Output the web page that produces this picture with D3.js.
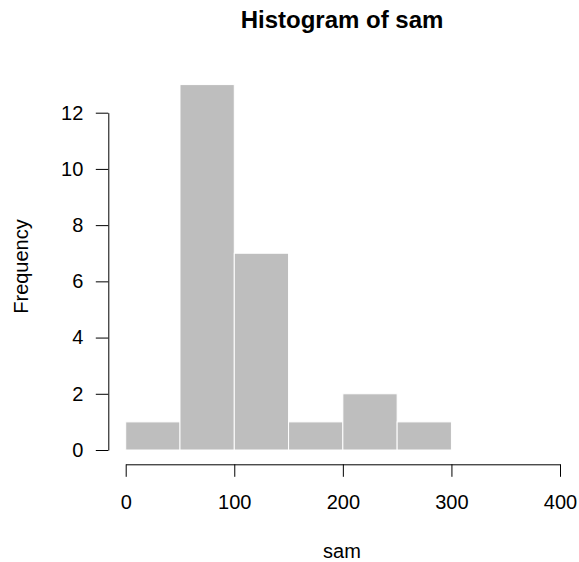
<!DOCTYPE html>
<html>
<head>
<meta charset="utf-8">
<script src="https://cdn.jsdelivr.net/npm/d3@7"></script>
<style>
  body { margin: 0; background: #fff; }
  text { font-family: "Liberation Sans", Arial, sans-serif; fill: #000; }
</style>
</head>
<body>
<svg id="chart"></svg>
<script>
// histogram of sam: bin edges and counts
const breaks = [0, 50, 100, 150, 200, 250, 300];
const counts = [1, 13, 7, 1, 2, 1];
const xTicks = [0, 100, 200, 300, 400];
const yTicks = [0, 2, 4, 6, 8, 10, 12];

const bins = counts.map((c, i) => ({x0: breaks[i], x1: breaks[i + 1], count: c}));

const width = 579, height = 562;

const svg = d3.select('#chart')
    .attr('width', width)
    .attr('height', height);

const xScale = d3.scaleLinear().domain([0, 400]).range([125.7, 560]);
const yScale = d3.scaleLinear().domain([0, 12]).range([450, 112.7]);

// bars
svg.selectAll('.bar')
    .data(bins)
    .join('rect')
    .attr('class', 'bar')
    .attr('x', d => xScale(d.x0))
    .attr('y', d => yScale(d.count))
    .attr('width', d => xScale(d.x1) - xScale(d.x0))
    .attr('height', d => yScale(0) - yScale(d.count))
    .attr('fill', '#bebebe')
    .attr('stroke', '#fff')
    .attr('stroke-width', 1);

// x axis, drawn below the plot like base R
const xAxisG = svg.append('g')
    .attr('transform', 'translate(0,464.3)')
    .call(d3.axisBottom(xScale).tickValues(xTicks).tickSize(12.5).tickPadding(18).tickSizeOuter(0));

// y axis
const yAxisG = svg.append('g')
    .attr('transform', 'translate(108.3,0)')
    .call(d3.axisLeft(yScale).tickValues(yTicks).tickSize(12.5).tickPadding(12.5).tickSizeOuter(0));

[xAxisG, yAxisG].forEach(g => {
    g.select('.domain').attr('stroke', '#000').attr('stroke-width', 1);
    g.selectAll('.tick line').attr('stroke', '#000');
    g.selectAll('.tick text')
        .attr('font-family', '"Liberation Sans", Arial, sans-serif')
        .attr('font-size', 20)
        .attr('fill', '#000');
});

// titles
svg.append('text')
    .attr('x', 342)
    .attr('y', 28.3)
    .attr('text-anchor', 'middle')
    .attr('font-size', 24)
    .attr('font-weight', 'bold')
    .text('Histogram of sam');

svg.append('text')
    .attr('x', 342)
    .attr('y', 558.3)
    .attr('text-anchor', 'middle')
    .attr('font-size', 20)
    .text('sam');

svg.append('text')
    .attr('transform', 'translate(27.7,266.5) rotate(-90)')
    .attr('text-anchor', 'middle')
    .attr('font-size', 20)
    .text('Frequency');
</script>
</body>
</html>
